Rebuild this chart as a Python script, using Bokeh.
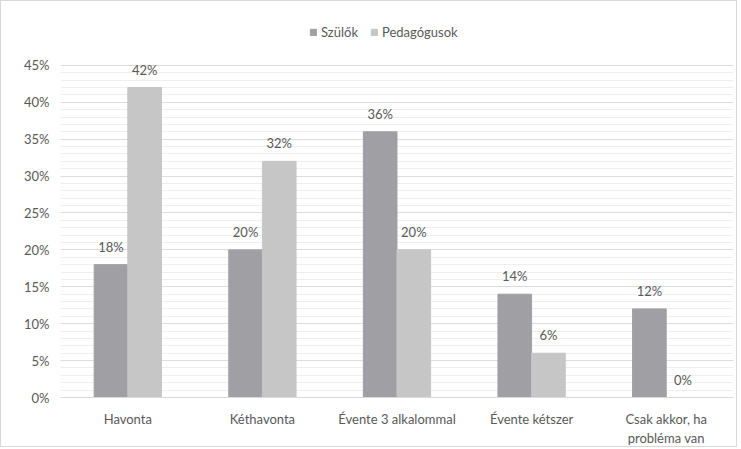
from bokeh.plotting import figure
from bokeh.models import (ColumnDataSource, FactorRange, Range1d, FixedTicker,
                          PrintfTickFormatter, LabelSet, Legend, LegendItem)
from bokeh.core.properties import value
from bokeh.transform import dodge
from bokeh.embed import file_html
from bokeh.resources import INLINE

categories = ["Havonta", "Kéthavonta", "Évente 3 alkalommal", "Évente kétszer",
              "Csak akkor, ha\nprobléma van"]
szulok = [18, 20, 36, 14, 12]
pedagogusok = [42, 32, 20, 6, 0]
series_names = ["Szülők", "Pedagógusok"]
y_ticks = [0, 5, 10, 15, 20, 25, 30, 35, 40, 45]
y_minor_ticks = list(range(0, 46))

DARK = "#a0a0a4"
LIGHT = "#c6c6c6"
TXT = "#595959"
FONT = "Lato"

src = ColumnDataSource(dict(
    cat=categories,
    s=szulok,
    p=pedagogusok,
    s_lab=[f"{v}%" for v in szulok],
    p_lab=[f"{v}%" for v in pedagogusok],
))

p = figure(x_range=FactorRange(*categories), y_range=Range1d(0, 51.76),
           width=737, height=447, output_backend="svg", toolbar_location=None,
           min_border_left=59, min_border_right=5, min_border_top=14, min_border_bottom=50)
p.outline_line_color = None
p.background_fill_color = "white"
p.border_fill_color = "white"

r1 = p.vbar(x=dodge("cat", -0.125, range=p.x_range), top="s", width=0.25, source=src,
            fill_color=DARK, line_color=DARK)
r2 = p.vbar(x=dodge("cat", 0.125, range=p.x_range), top="p", width=0.25, source=src,
            fill_color=LIGHT, line_color=LIGHT)

for col, off in (("s", -0.125), ("p", 0.125)):
    lab = LabelSet(x=dodge("cat", off, range=p.x_range), y=col, text=col + "_lab", source=src,
                   text_align="center", text_baseline="bottom", y_offset=10,
                   text_font=value(FONT), text_font_size="13px", text_color=TXT)
    p.add_layout(lab)

p.yaxis.ticker = FixedTicker(ticks=y_ticks, minor_ticks=y_minor_ticks)
p.yaxis.formatter = PrintfTickFormatter(format="%d%%")
p.yaxis.axis_line_color = None
p.yaxis.major_tick_line_color = None
p.yaxis.minor_tick_line_color = None
p.yaxis.major_label_text_font = FONT
p.yaxis.major_label_text_font_size = "13px"
p.yaxis.major_label_text_color = TXT
p.yaxis.major_label_standoff = 5

p.xaxis.axis_line_color = "#d9d9d9"
p.xaxis.major_tick_line_color = None
p.xaxis.minor_tick_line_color = None
p.xaxis.major_label_text_font = FONT
p.xaxis.major_label_text_font_size = "13px"
p.xaxis.major_label_text_color = TXT
p.xaxis.major_label_standoff = 7

p.xgrid.grid_line_color = None
p.ygrid.grid_line_color = "#dcdcdc"
p.ygrid.minor_grid_line_color = "#efefef"

legend = Legend(items=[LegendItem(label=series_names[0], renderers=[r1]),
                       LegendItem(label=series_names[1], renderers=[r2])],
                orientation="horizontal", location=(249, 357),
                glyph_width=8, glyph_height=8, label_text_font=FONT,
                label_text_font_size="13px", label_text_color=TXT,
                border_line_color=None, background_fill_alpha=0,
                spacing=12, label_standoff=4, padding=0, margin=0)
p.add_layout(legend, "center")
p.styles = {"border": "1px solid #d9d9d9"}

open("out.html", "w").write(file_html(p, INLINE))
